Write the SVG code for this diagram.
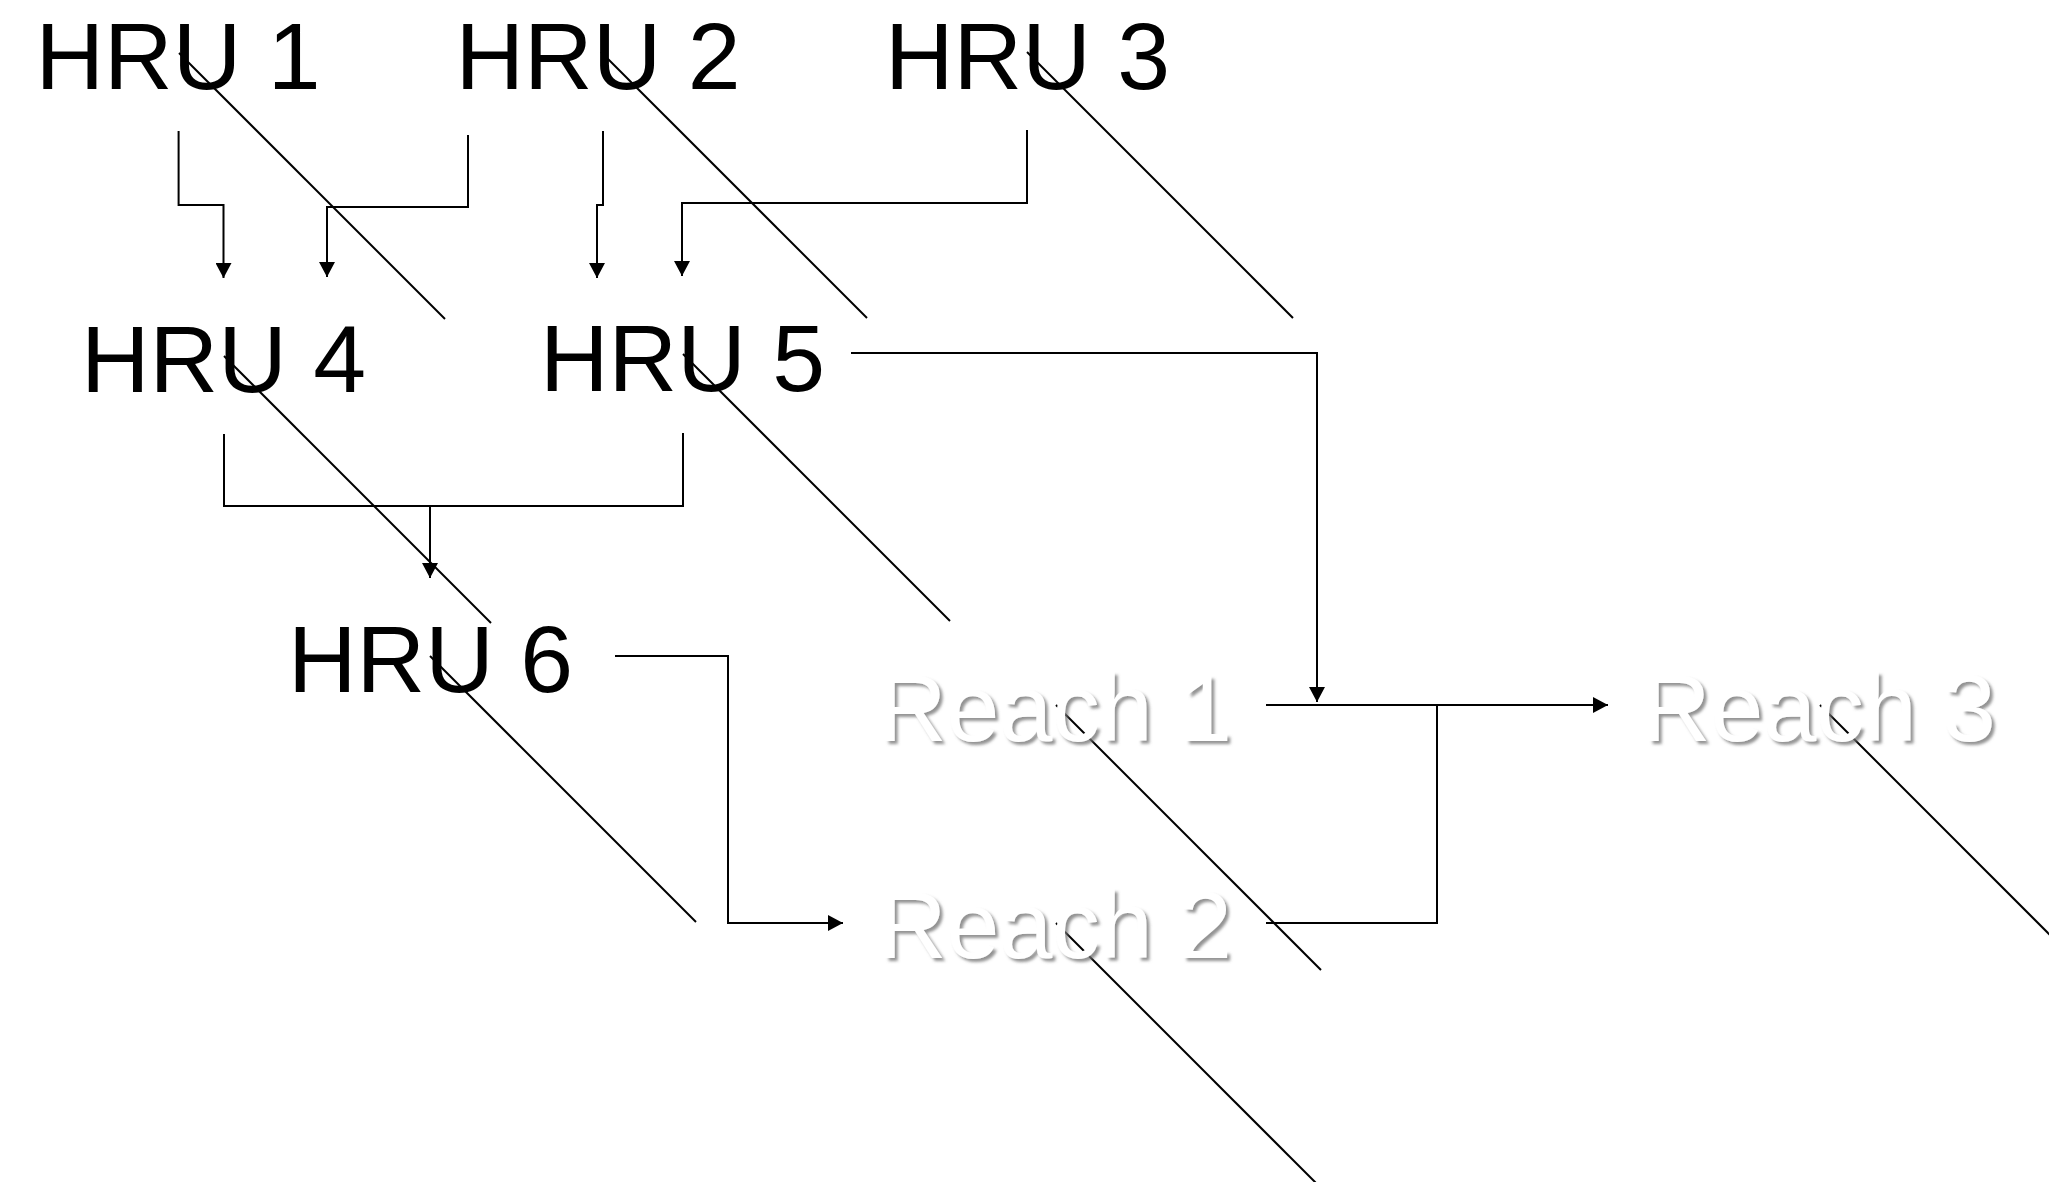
<svg xmlns="http://www.w3.org/2000/svg" width="2049" height="1182" viewBox="0 0 2049 1182">
  <style>
    .hru { font-family: "Liberation Sans", Arial, sans-serif; font-size: 95px; fill: #000; }
    .reach { font-family: "Liberation Sans", Arial, sans-serif; font-size: 95px; fill: #fff; filter: url(#shadow); }
    .conn { fill: none; stroke: #000; stroke-width: 2; }
    .diag { fill: none; stroke: #000; stroke-width: 2; }
  </style>
  <defs>
    <marker id="arrow" markerUnits="userSpaceOnUse" markerWidth="16" markerHeight="16" refX="15" refY="8" orient="auto">
      <path d="M0,0 L15,8 L0,16 z" fill="#000"/>
    </marker>
    <filter id="shadow" x="-10%" y="-20%" width="130%" height="150%">
      <feDropShadow dx="3" dy="3" stdDeviation="1.8" flood-color="#6e6e6e" flood-opacity="0.75"/>
    </filter>
  </defs>
  <rect width="2049" height="1182" fill="#fff"/>

  <g id="connectors">
    <path class="conn" d="M178.6,131 V205 H223.5 V278" marker-end="url(#arrow)"/>
    <path class="conn" d="M468,135 V207 H327 V277" marker-end="url(#arrow)"/>
    <path class="conn" d="M603,131 V205 H597 V278" marker-end="url(#arrow)"/>
    <path class="conn" d="M1027,130 V203 H682 V276" marker-end="url(#arrow)"/>
    <path class="conn" d="M224,434 V506 H683 V433"/>
    <path class="conn" d="M430,506 V578" marker-end="url(#arrow)"/>
    <path class="conn" d="M615,656 H728 V923 H843" marker-end="url(#arrow)"/>
    <path class="conn" d="M851,353 H1317 V702" marker-end="url(#arrow)"/>
    <path class="conn" d="M1266,705 H1608" marker-end="url(#arrow)"/>
    <path class="conn" d="M1266,923 H1437 V705"/>

    <line class="diag" x1="179" y1="53" x2="445" y2="319"/>
    <line class="diag" x1="601" y1="52" x2="867" y2="318"/>
    <line class="diag" x1="1027" y1="52" x2="1293" y2="318"/>
    <line class="diag" x1="224" y1="356" x2="491" y2="623"/>
    <line class="diag" x1="683" y1="354" x2="950" y2="621"/>
    <line class="diag" x1="430" y1="656" x2="696" y2="922"/>
    <line class="diag" x1="1056" y1="705" x2="1321" y2="970"/>
    <line class="diag" x1="1056" y1="923" x2="1323" y2="1190"/>
    <line class="diag" x1="1820" y1="705" x2="2087" y2="972"/>
  </g>

  <g id="hru1"><text class="hru" x="35.5" y="89">HRU 1</text></g>
  <g id="hru2"><text class="hru" x="455.5" y="89">HRU 2</text></g>
  <g id="hru3"><text class="hru" x="885" y="89">HRU 3</text></g>
  <g id="hru4"><text class="hru" x="81" y="392">HRU 4</text></g>
  <g id="hru5"><text class="hru" x="540" y="391">HRU 5</text></g>
  <g id="hru6"><text class="hru" x="288" y="692">HRU 6</text></g>
  <g id="reach1"><text class="reach" x="878" y="741">Reach 1</text></g>
  <g id="reach2"><text class="reach" x="878" y="958">Reach 2</text></g>
  <g id="reach3"><text class="reach" x="1642" y="741">Reach 3</text></g>
</svg>
